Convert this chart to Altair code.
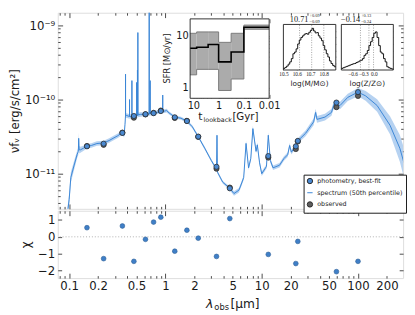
import altair as alt
import numpy as np
import pandas as pd

FONT = "DejaVu Sans"
SERIF = "Liberation Serif"
INK = "#1a1a1a"
LINE_BLUE = "#3b86d6"
BAND_BLUE = "#aecdef"
PT_BLUE = "#4a89d1"
PT_EDGE = "#2a2a2a"
OBS_GRAY = "#5e5e5e"
RES_BLUE = "#3f7fc7"

W, H1, H2 = 354, 201, 69

# ---------------- photometry ----------------
phot_wave = [0.153, 0.228, 0.357, 0.47, 0.62, 0.753, 0.895, 1.25, 1.67, 2.19,
             3.39, 4.66, 11.7, 22.6, 23.7, 59.7, 100]
phot_model = [2.34e-11, 2.54e-11, 3.55e-11, 6.0e-11, 6.35e-11, 6.55e-11, 7.0e-11, 5.76e-11, 5.13e-11, 3.16e-11,
              1.24e-11, 6.35e-12, 1.73e-11, 2.34e-11, 2.77e-11, 9.1e-11, 1.26e-10]
phot_obs = [2.36e-11, 2.45e-11, 3.58e-11, 5.7e-11, 6.3e-11, 6.62e-11, 7.1e-11, 5.65e-11, 5.16e-11, 3.14e-11,
            1.17e-11, 6.5e-12, 1.65e-11, 2.15e-11, 2.72e-11, 7.9e-11, 1.12e-10]
phot_chi = [0.54, -1.29, 0.64, -1.45, -0.15, 0.87, 1.16, -0.85, 0.39, -0.08,
            -1.16, 1.08, -1.04, -1.58, -0.27, -2.06, -1.45]

# ---------------- model spectrum (50th percentile) ----------------
spec_wave = [0.090, 0.100, 0.104, 0.112, 0.121, 0.1245, 0.1256, 0.127, 0.131, 0.140,
             0.153, 0.170, 0.194, 0.228, 0.260, 0.286, 0.320, 0.357, 0.372, 0.380,
             0.3845, 0.385, 0.3855, 0.395, 0.423, 0.4237, 0.4245, 0.448, 0.4484, 0.449,
             0.470, 0.501, 0.502, 0.503, 0.511, 0.512, 0.5135, 0.5165, 0.517, 0.5178,
             0.550, 0.620, 0.677, 0.678, 0.679, 0.6935, 0.694, 0.6948, 0.753, 0.850,
             0.936, 0.937, 0.9385, 1.03, 1.09, 1.25, 1.45, 1.67, 1.90, 2.19,
             2.56, 3.00, 3.39, 3.43, 3.47, 3.93, 4.66, 5.15, 5.80, 6.20,
             6.50, 6.87, 7.30, 7.70, 8.09, 8.73, 9.00, 9.50, 10.0, 11.2,
             11.7, 12.3, 13.1, 15.3, 17.0, 18.6, 19.5, 20.3, 21.7, 23.7,
             28.5, 34.6, 36.3, 37.5, 45.4, 53.0, 56.5, 58.0, 65.0, 78.3,
             100, 120, 158, 215, 272, 300]
spec_flux = [1.5e-12, 4.5e-12, 8.9e-12, 1.27e-11, 1.82e-11, 2.0e-11, 3.0e-11, 2.1e-11, 2.1e-11, 2.2e-11,
             2.34e-11, 2.4e-11, 2.55e-11, 2.6e-11, 2.8e-11, 3.0e-11, 3.25e-11, 3.6e-11, 3.3e-11, 4.6e-11,
             6.0e-11, 2.2e-10, 6.0e-11, 6.1e-11, 5.9e-11, 1.0e-10, 5.9e-11, 5.9e-11, 1.8e-10, 5.9e-11,
             6.0e-11, 6.1e-11, 1.7e-10, 6.1e-11, 6.1e-11, 2.5e-10, 6.1e-11, 6.2e-11, 8.0e-10, 6.2e-11,
             6.3e-11, 6.35e-11, 6.4e-11, 3.0e-9, 6.4e-11, 6.45e-11, 1.8e-10, 6.45e-11, 6.55e-11, 6.8e-11,
             6.9e-11, 1.15e-10, 6.9e-11, 7.1e-11, 6.6e-11, 5.8e-11, 5.6e-11, 5.1e-11, 4.3e-11, 3.16e-11,
             2.2e-11, 1.5e-11, 1.15e-11, 3.3e-11, 1.05e-11, 7.7e-12, 6.35e-12, 5.4e-12, 6.0e-12, 7.5e-12,
             8.9e-12, 2.56e-11, 1.2e-11, 1.6e-11, 4.05e-11, 2.0e-11, 2.45e-11, 1.4e-11, 1.0e-11, 1.25e-11,
             3.3e-11, 1.5e-11, 1.2e-11, 1.3e-11, 1.6e-11, 1.8e-11, 2.4e-11, 1.95e-11, 2.2e-11, 2.77e-11,
             3.5e-11, 5.0e-11, 6.7e-11, 5.4e-11, 5.8e-11, 6.7e-11, 8.7e-11, 8.6e-11, 8.3e-11, 1.07e-10,
             1.26e-10, 1.12e-10, 8.3e-11, 4.5e-11, 2.2e-11, 1.4e-11]
# half-width of the 16th-84th percentile band, in dex
spec_halfwidth = [0.08, 0.08, 0.07, 0.06, 0.05, 0.05, 0.08, 0.05, 0.04, 0.035,
                  0.03, 0.03, 0.03, 0.03, 0.03, 0.03, 0.03, 0.03, 0.03, 0.03,
                  0.03, 0.10, 0.03, 0.03, 0.03, 0.08, 0.03, 0.03, 0.08, 0.03,
                  0.03, 0.03, 0.08, 0.03, 0.03, 0.08, 0.03, 0.03, 0.15, 0.03,
                  0.03, 0.025, 0.025, 0.05, 0.025, 0.025, 0.08, 0.025, 0.025, 0.025,
                  0.025, 0.06, 0.025, 0.025, 0.02, 0.02, 0.02, 0.02, 0.02, 0.02,
                  0.02, 0.02, 0.02, 0.04, 0.02, 0.02, 0.025, 0.03, 0.03, 0.03,
                  0.03, 0.04, 0.03, 0.03, 0.04, 0.03, 0.03, 0.03, 0.03, 0.03,
                  0.04, 0.03, 0.03, 0.03, 0.03, 0.03, 0.035, 0.03, 0.03, 0.035,
                  0.04, 0.045, 0.05, 0.045, 0.045, 0.045, 0.05, 0.05, 0.05, 0.05,
                  0.055, 0.065, 0.085, 0.12, 0.18, 0.20]

# ---------------- SFH inset ----------------
sfh_edges = [13.4, 7.4, 2.6, 1.0, 0.32, 0.1, 0.01]
sfh_med = [5.8, 6.05, 6.8, 3.16, 4.9, 14.7]
sfh_lo = [1.78, 2.27, 2.27, 0.89, 1.48, 13.4]
sfh_hi = [11.2, 11.9, 11.9, 7.5, 11.2, 16.1]

# ---------------- posterior histograms ----------------
mass_counts = [5, 8, 12, 18, 25, 35, 50, 55, 65, 80, 92, 100, 105, 110, 112, 110, 116,
               122, 128, 120, 114, 115, 105, 98, 90, 75, 62, 50, 40, 28, 20, 14, 10]
mass_quant = [10.62, 10.71, 10.80]
metal_counts = [5, 7, 9, 11, 13, 15, 17, 19, 20, 23, 25, 28, 30, 35, 45, 50,
                60, 75, 87, 100, 113, 117, 100, 75, 55, 50, 35, 25, 10, 7, 5, 3]
metal_quant = [-0.38, -0.14, -0.01]

CATS = ["photometry, best-fit", "spectrum (50th percentile)", "observed"]

# ---------------- axis helpers ----------------
XDOM = [0.0761, 294.0]
YDOM = [3.36e-12, 1.48e-9]
RDOM = [-2.44, 1.54]
X_MAJOR = [0.1, 1, 10, 100]
X_MINOR = [0.08, 0.09] + [m * d for d in (0.1, 1, 10) for m in range(2, 10)] + [200]
X_LABELS = [0.1, 0.2, 0.5, 1, 2, 5, 10, 20, 50, 100, 200]
Y_MAJOR = [1e-11, 1e-10, 1e-9]
Y_MINOR = [m * 1e-12 for m in range(4, 10)] + [m * 1e-11 for m in range(2, 10)] + [m * 1e-10 for m in range(2, 10)]


def ax(orient, values, tick=0.0, offset=0.0, labels=False, size=12, pad=2, fmt=None,
       expr=None, title=None, tsize=12, tpad=3, font=FONT):
    kw = dict(orient=orient, values=values, offset=offset, domain=False, grid=False,
              ticks=tick > 0, tickSize=tick, tickColor=INK, tickWidth=0.8,
              labels=labels, labelFont=font, labelFontSize=size, labelPadding=pad,
              labelColor=INK, labelFlush=False, labelOverlap=False,
              titleFont=FONT, titleFontSize=tsize, titlePadding=tpad, titleColor=INK,
              titleFontWeight="normal", title=title)
    if fmt is not None:
        kw["format"] = fmt
    if expr is not None:
        kw["labelExpr"] = expr
    return alt.Axis(**kw)


def carriers(df, xf, yf, xs, ys, pairs):
    out = []
    for xa, ya in pairs:
        out.append(alt.Chart(df).mark_point(opacity=0, size=1).encode(
            x=alt.X(xf, type="quantitative", scale=xs, axis=xa),
            y=alt.Y(yf, type="quantitative", scale=ys, axis=ya)))
    return out


def txt(label, x, y, size, align="left", font=FONT, style="normal", angle=0):
    return alt.Chart(pd.DataFrame({"t": [label]})).mark_text(
        align=align, baseline="middle", fontSize=size, font=font, color=INK,
        fontStyle=style, angle=angle).encode(text="t:N", x=alt.value(x), y=alt.value(y))


# ---------------- main panel ----------------
xs = alt.Scale(type="log", domain=XDOM, nice=False)
ys = alt.Scale(type="log", domain=YDOM, nice=False)

spec = pd.DataFrame({"lam": spec_wave, "f": spec_flux, "w": spec_halfwidth})
spec["lo"] = spec["f"] * 10 ** (-spec["w"])
spec["hi"] = spec["f"] * 10 ** (spec["w"])

phot = pd.DataFrame({"lam": phot_wave, "model": phot_model, "obs": phot_obs,
                     "chi": phot_chi, "cat": CATS[0]})

band = alt.Chart(spec).mark_area(color=BAND_BLUE, opacity=0.9, clip=True).encode(
    x=alt.X("lam:Q", scale=xs, axis=None),
    y=alt.Y("lo:Q", scale=ys, axis=None), y2="hi:Q")
line = alt.Chart(spec).mark_line(color=LINE_BLUE, strokeWidth=1, clip=True).encode(
    x=alt.X("lam:Q", scale=xs, axis=None),
    y=alt.Y("f:Q", scale=ys, axis=None))
obs_pts = alt.Chart(phot).mark_point(shape="circle", filled=True, size=28, color=OBS_GRAY,
                                     stroke=PT_EDGE, strokeWidth=0.8, opacity=1).encode(
    x=alt.X("lam:Q", scale=xs, axis=None),
    y=alt.Y("obs:Q", scale=ys, axis=None))
leg = alt.Legend(title=None, orient="none", legendX=252, legendY=166, labelFont=FONT,
                 labelFontSize=6.5, labelColor=INK, symbolSize=30, symbolStrokeWidth=1,
                 rowPadding=3, padding=3, strokeColor=INK, fillColor="white",
                 labelOffset=4, cornerRadius=0)
model_pts = alt.Chart(phot).mark_point(size=28, opacity=1, strokeWidth=0.8).encode(
    x=alt.X("lam:Q", scale=xs, axis=None),
    y=alt.Y("model:Q", scale=ys, axis=None),
    fill=alt.Fill("cat:N", scale=alt.Scale(domain=CATS, range=[PT_BLUE, "transparent", OBS_GRAY]), legend=leg),
    stroke=alt.Stroke("cat:N", scale=alt.Scale(domain=CATS, range=[PT_EDGE, LINE_BLUE, PT_EDGE]), legend=leg),
    shape=alt.Shape("cat:N", scale=alt.Scale(domain=CATS, range=["circle", "stroke", "circle"]), legend=leg))

yexpr = "datum.value > 5e-10 ? '10⁻⁹' : datum.value > 5e-11 ? '10⁻¹⁰' : '10⁻¹¹'"
main_axes = [
    (ax("top", X_MAJOR, 5, -H1), ax("left", Y_MAJOR, 0, 0, True, 12, 3, expr=yexpr,
                                     title="νfᵥ [erg/s/cm²]", tsize=12, tpad=3)),
    (ax("top", X_MINOR, 2.5, -H1), ax("right", Y_MAJOR, 5, -W)),
    (ax("bottom", X_MAJOR, 5, -H1), ax("right", Y_MINOR, 2.5, -W)),
    (ax("bottom", X_MINOR, 2.5, -H1), ax("left", Y_MAJOR, 5, -W)),
    (None, ax("left", Y_MINOR, 2.5, -W)),
]
main_core = alt.layer(band, line, obs_pts, model_pts,
                      *carriers(phot, "lam", "model", xs, ys, main_axes)
                      ).resolve_axis(x="independent", y="independent")

# ---------------- SFH inset ----------------
SX0, SX1, SY0, SY1 = 135.7, 216.7, 6.3, 87.7
sfx = alt.Scale(type="log", domain=[13.4, 0.01], range=[SX0, SX1], nice=False)
sfy = alt.Scale(type="log", domain=[0.63, 21.2], range=[SY1, SY0], nice=False)
frame_sfh = pd.DataFrame({"a": [13.4], "b": [0.01], "c": [0.63], "d": [21.2]})
sfh_rects = pd.DataFrame({"t0": sfh_edges[:-1], "t1": sfh_edges[1:], "lo": sfh_lo, "hi": sfh_hi})


def steps(vals):
    return pd.DataFrame({"t": sfh_edges, "v": vals + [vals[-1]], "i": list(range(len(sfh_edges)))})


def frame(df, xsc, ysc, filled):
    m = alt.Chart(df).mark_rect(fill="white" if filled else "transparent",
                                stroke=INK if not filled else "white", strokeWidth=0.9)
    return m.encode(x=alt.X("a:Q", scale=xsc, axis=None), x2="b:Q",
                    y=alt.Y("c:Q", scale=ysc, axis=None), y2="d:Q")


sfh_band = alt.Chart(sfh_rects).mark_rect(color="#ababab").encode(
    x=alt.X("t0:Q", scale=sfx, axis=None), x2="t1:Q",
    y=alt.Y("lo:Q", scale=sfy, axis=None), y2="hi:Q")


def sfh_line(vals, color, width):
    return alt.Chart(steps(vals)).mark_line(interpolate="step-after", color=color, strokeWidth=width).encode(
        x=alt.X("t:Q", scale=sfx, axis=None), y=alt.Y("v:Q", scale=sfy, axis=None), order="i:Q")


SFH_XMAJ = [10, 1, 0.1, 0.01]
SFH_XMIN = [m * d for d in (1, 0.1, 0.01) for m in range(2, 10)]
SFH_YMAJ = [1, 10]
SFH_YMIN = [0.7, 0.8, 0.9] + list(range(2, 10)) + [20]
sfh_axes = [
    (ax("bottom", SFH_XMAJ, 0, SY1 - H1, True, 10, 2, fmt="~g"),
     ax("left", SFH_YMAJ, 0, -SX0, True, 10, 2, fmt="~g")),
    (ax("top", SFH_XMAJ, 4, -SY1), ax("right", SFH_YMAJ, 4, SX0 - W)),
    (ax("top", SFH_XMIN, 2, -SY1), ax("right", SFH_YMIN, 2, SX0 - W)),
    (ax("bottom", SFH_XMAJ, 4, SY0 - H1), ax("left", SFH_YMAJ, 4, -SX1)),
    (ax("bottom", SFH_XMIN, 2, SY0 - H1), ax("left", SFH_YMIN, 2, -SX1)),
]
sfh = alt.layer(frame(frame_sfh, sfx, sfy, True), sfh_band,
                sfh_line(sfh_lo, "#7a7a7a", 1), sfh_line(sfh_hi, "#7a7a7a", 1),
                sfh_line(sfh_med, "#000000", 1.6),
                frame(frame_sfh, sfx, sfy, False),
                *carriers(steps(sfh_med), "t", "v", sfx, sfy, sfh_axes)
                ).resolve_axis(x="independent", y="independent")


# ---------------- histogram insets ----------------
def hist_panel(counts, lo, width, dom, xr, quants, ticks):
    edges = [round(lo + width * i, 4) for i in range(len(counts) + 1)]
    df = pd.DataFrame({"m": edges, "c": counts + [counts[-1]]})
    hx = alt.Scale(domain=dom, range=xr, nice=False, zero=False)
    hy = alt.Scale(domain=[0, 140], range=[58.7, 12], nice=False, zero=False)
    fr = pd.DataFrame({"a": [dom[0]], "b": [dom[1]], "c": [0], "d": [140]})
    q = pd.DataFrame({"q": quants, "y0": [0] * 3, "y1": [140] * 3})
    hline = alt.Chart(df).mark_line(interpolate="step-after", color="#111", strokeWidth=1).encode(
        x=alt.X("m:Q", scale=hx, axis=None), y=alt.Y("c:Q", scale=hy, axis=None))
    qr = alt.Chart(q).mark_rule(color="#888", strokeDash=[1, 1.5], strokeWidth=0.8).encode(
        x=alt.X("q:Q", scale=hx, axis=None), y=alt.Y("y0:Q", scale=hy, axis=None), y2="y1:Q")
    hyt = [20, 40, 60, 80, 100, 120]
    axes = [
        (ax("bottom", ticks, 0, 58.7 - H1, True, 5.5, 1.5, fmt=".1f", font=SERIF),
         ax("right", hyt, 2.5, xr[0] - W)),
        (ax("top", ticks, 2.5, -58.7), ax("left", hyt, 2.5, -xr[1])),
        (ax("bottom", ticks, 2.5, 12 - H1), None),
    ]
    return alt.layer(frame(fr, hx, hy, True), qr, hline, frame(fr, hx, hy, False),
                     *carriers(df, "m", "c", hx, hy, axes)
                     ).resolve_axis(x="independent", y="independent")


mass = hist_panel(mass_counts, 10.5, 0.0118, [10.5, 10.889], [231.3, 285.0], mass_quant,
                  [10.5, 10.6, 10.7, 10.8])
metal = hist_panel(metal_counts, -0.92, 0.0459, [-0.92, 0.55], [290.7, 344.0], metal_quant,
                   [-0.6, -0.3, 0.0])

main_texts = [
    txt("t", 144, 107, 11), txt("lookback", 149.5, 110, 6.5), txt("[Gyr]", 179, 107, 10.5),
    txt("SFR [M⊙/yr]", 112, 47, 8.5, "center", angle=270),
    txt("log(M/M⊙)", 258.1, 73.5, 7.5, "center"),
    txt("log(Z/Z⊙)", 317.3, 73.5, 7.5, "center"),
    txt("10.71", 257, 6.5, 8.5, "right", SERIF), txt("+0.09", 258, 3.5, 4.5, font=SERIF),
    txt("−0.09", 258, 9.5, 4.5, font=SERIF),
    txt("−0.14", 310, 6.5, 8.5, "right", SERIF), txt("+0.13", 311, 3.5, 4.5, font=SERIF),
    txt("−0.24", 311, 9.5, 4.5, font=SERIF),
]

main = alt.layer(main_core, sfh, mass, metal, *main_texts).resolve_scale(
    x="independent", y="independent").resolve_axis(
    x="independent", y="independent").properties(width=W, height=H1)

# ---------------- residual panel ----------------
rys = alt.Scale(domain=RDOM, nice=False, zero=False)
zero = alt.Chart(pd.DataFrame({"y": [0.0]})).mark_rule(
    color="#9a9a9a", strokeDash=[1, 2], strokeWidth=0.8).encode(
    y=alt.Y("y:Q", scale=rys, axis=None))
rpts = alt.Chart(phot).mark_point(shape="circle", filled=True, size=24, color=RES_BLUE,
                                  stroke="#2c5f96", strokeWidth=0.6, opacity=1).encode(
    x=alt.X("lam:Q", scale=xs, axis=None), y=alt.Y("chi:Q", scale=rys, axis=None))
R_TICKS = [1, 0, -1, -2]
res_axes = [
    (ax("bottom", X_LABELS, 0, 0, True, 12, 3, fmt="~g"),
     ax("left", R_TICKS, 0, 0, True, 12, 3, title="χ", tsize=12, tpad=5)),
    (ax("top", X_MAJOR, 5, -H2), ax("right", R_TICKS, 4, -W)),
    (ax("top", X_MINOR, 2.5, -H2), ax("left", R_TICKS, 4, -W)),
    (ax("bottom", X_MAJOR, 5, -H2), None),
    (ax("bottom", X_MINOR, 2.5, -H2), None),
]
res_texts = [txt("λ", 152, 96, 13, style="italic"), txt("obs", 160.5, 99, 8.5),
             txt("[μm]", 177, 96, 12.5)]
resid = alt.layer(zero, rpts, *carriers(phot, "lam", "chi", xs, rys, res_axes), *res_texts
                  ).resolve_axis(x="independent", y="independent").properties(width=W, height=H2)

chart = alt.vconcat(main, resid, spacing=0).resolve_scale(
    x="independent", y="independent").properties(
    padding={"left": 0, "top": 0, "right": 0, "bottom": 0}).configure_view(
    stroke=INK, strokeWidth=0.9).configure(font=FONT)

chart.save("out.html", embed_options={"renderer": "svg", "actions": False})
